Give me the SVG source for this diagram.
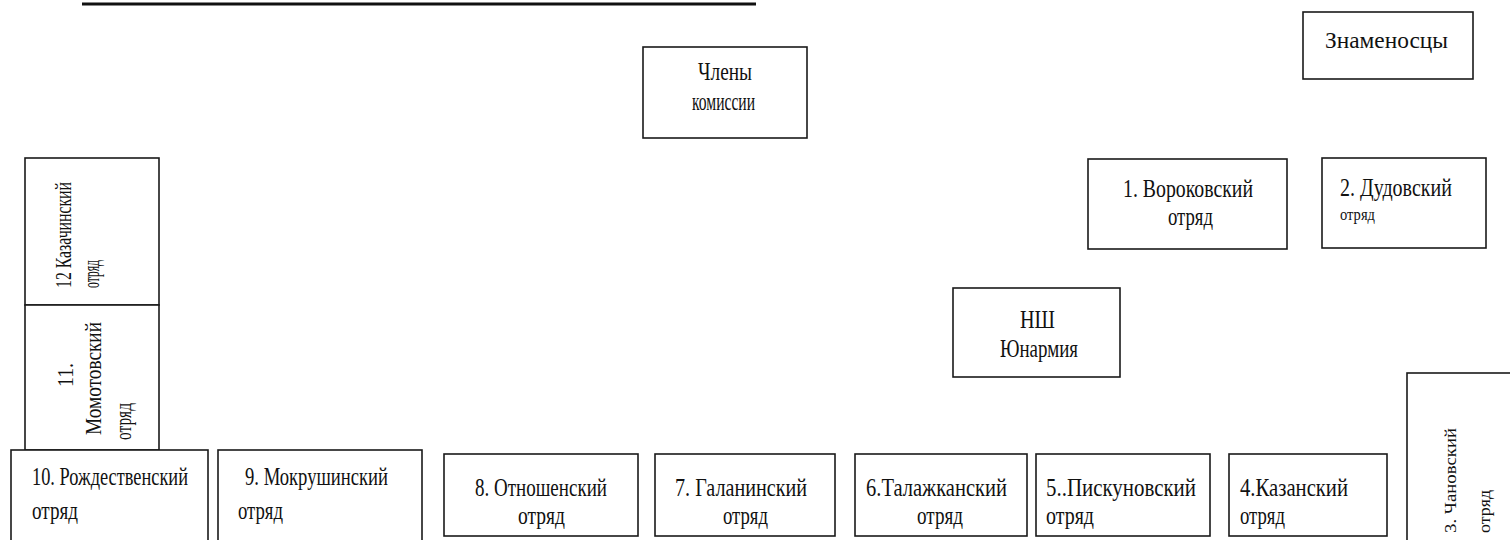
<svg xmlns="http://www.w3.org/2000/svg" width="1510" height="540" viewBox="0 0 1510 540">
<style>
.box{fill:#fff;stroke:#1a1a1a;stroke-width:1.6}
.t{font-family:"Liberation Serif","Times New Roman",serif;font-size:26px;fill:#111}
.s{font-size:17px}
.m{font-size:24px}
</style>
<rect width="1510" height="540" fill="#fff"/>
<line x1="82" y1="4" x2="756" y2="4" stroke="#111" stroke-width="3"/>
<g id="connectors"></g>
<g id="n-chleny">
<rect class="box" x="643" y="47" width="164" height="91"/>
<text class="t" x="698" y="80" textLength="54" lengthAdjust="spacingAndGlyphs">Члены</text>
<text class="t" x="692" y="110" textLength="63" lengthAdjust="spacingAndGlyphs">комиссии</text>
</g>
<g id="n-znamenoscy">
<rect class="box" x="1303" y="12" width="170" height="67"/>
<text class="t m" x="1325" y="48" textLength="123" lengthAdjust="spacingAndGlyphs">Знаменосцы</text>
</g>
<g id="n-1">
<rect class="box" x="1088" y="159" width="199" height="90"/>
<text class="t" x="1123" y="197" textLength="130" lengthAdjust="spacingAndGlyphs">1. Вороковский</text>
<text class="t" x="1168" y="225" textLength="45" lengthAdjust="spacingAndGlyphs">отряд</text>
</g>
<g id="n-2">
<rect class="box" x="1322" y="158" width="164" height="90"/>
<text class="t" x="1340" y="196" textLength="112" lengthAdjust="spacingAndGlyphs">2. Дудовский</text>
<text class="t s" x="1340" y="220" textLength="35" lengthAdjust="spacingAndGlyphs">отряд</text>
</g>
<g id="n-nsh">
<rect class="box" x="953" y="288" width="167" height="89"/>
<text class="t" x="1020" y="328" textLength="35" lengthAdjust="spacingAndGlyphs">НШ</text>
<text class="t" x="1000" y="357" textLength="78" lengthAdjust="spacingAndGlyphs">Юнармия</text>
</g>
<g id="n-12">
<rect class="box" x="25" y="158" width="134" height="147"/>
<text class="t m" transform="translate(71,288) rotate(-90)" textLength="106" lengthAdjust="spacingAndGlyphs">12 Казачинский</text>
<text class="t m" transform="translate(99,288) rotate(-90)" textLength="28" lengthAdjust="spacingAndGlyphs">отряд</text>
</g>
<g id="n-11">
<rect class="box" x="25" y="305" width="134" height="145"/>
<text class="t m" transform="translate(73,387) rotate(-90)" textLength="24" lengthAdjust="spacingAndGlyphs">11.</text>
<text class="t m" transform="translate(101,435) rotate(-90)" textLength="113" lengthAdjust="spacingAndGlyphs">Момотовский</text>
<text class="t m" transform="translate(131,440) rotate(-90)" textLength="37" lengthAdjust="spacingAndGlyphs">отряд</text>
</g>
<g id="n-10">
<rect class="box" x="11" y="450" width="197" height="100"/>
<text class="t" x="32" y="485" textLength="156" lengthAdjust="spacingAndGlyphs">10. Рождественский</text>
<text class="t" x="32" y="519" textLength="46" lengthAdjust="spacingAndGlyphs">отряд</text>
</g>
<g id="n-9">
<rect class="box" x="218" y="450" width="204" height="100"/>
<text class="t" x="245" y="485" textLength="143" lengthAdjust="spacingAndGlyphs">9. Мокрушинский</text>
<text class="t" x="238" y="519" textLength="45" lengthAdjust="spacingAndGlyphs">отряд</text>
</g>
<g id="n-8">
<rect class="box" x="444" y="454" width="194" height="82"/>
<text class="t" x="475" y="496" textLength="132" lengthAdjust="spacingAndGlyphs">8. Отношенский</text>
<text class="t" x="518" y="524" textLength="47" lengthAdjust="spacingAndGlyphs">отряд</text>
</g>
<g id="n-7">
<rect class="box" x="655" y="454" width="180" height="82"/>
<text class="t" x="675" y="496" textLength="132" lengthAdjust="spacingAndGlyphs">7. Галанинский</text>
<text class="t" x="723" y="524" textLength="45" lengthAdjust="spacingAndGlyphs">отряд</text>
</g>
<g id="n-6">
<rect class="box" x="855" y="454" width="172" height="82"/>
<text class="t" x="866" y="496" textLength="141" lengthAdjust="spacingAndGlyphs">6.Талажканский</text>
<text class="t" x="917" y="524" textLength="46" lengthAdjust="spacingAndGlyphs">отряд</text>
</g>
<g id="n-5">
<rect class="box" x="1036" y="454" width="174" height="82"/>
<text class="t" x="1046" y="496" textLength="150" lengthAdjust="spacingAndGlyphs">5..Пискуновский</text>
<text class="t" x="1046" y="524" textLength="48" lengthAdjust="spacingAndGlyphs">отряд</text>
</g>
<g id="n-4">
<rect class="box" x="1229" y="454" width="158" height="82"/>
<text class="t" x="1240" y="496" textLength="108" lengthAdjust="spacingAndGlyphs">4.Казанский</text>
<text class="t" x="1240" y="524" textLength="45" lengthAdjust="spacingAndGlyphs">отряд</text>
</g>
<g id="n-3">
<rect class="box" x="1407" y="373" width="120" height="180"/>
<text class="t s" transform="translate(1456,533) rotate(-90)" textLength="105" lengthAdjust="spacingAndGlyphs">3. Чановский</text>
<text class="t s" transform="translate(1490,533) rotate(-90)" textLength="43" lengthAdjust="spacingAndGlyphs">отряд</text>
</g>
</svg>
